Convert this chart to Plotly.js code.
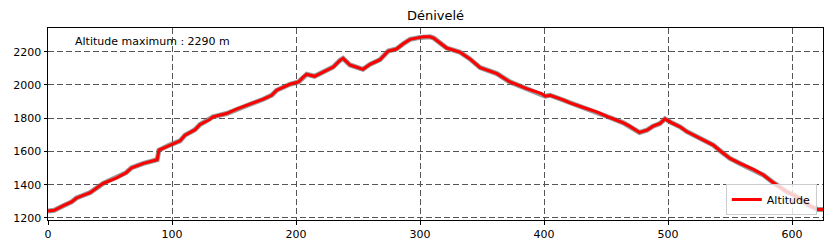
<!DOCTYPE html>
<html>
<head>
<meta charset="utf-8">
<script src="https://cdn.plot.ly/plotly-3.0.1.min.js"></script>
<style>html,body{margin:0;padding:0;background:#fff;}#chart{width:836px;height:250px;}</style>
</head>
<body>
<div id="chart"></div>
<script>
const distance = [0, 5, 12, 19, 23, 34, 44.5, 55, 63, 67.5, 77, 88, 89.5, 98, 106.5, 110.5, 118.5, 122.6, 130, 133, 144, 152, 163, 173.6, 180.4, 184.4, 195, 202, 206, 208.6, 215, 223, 230, 235.5, 238, 243.5, 254, 259.7, 267.7, 274.4, 281, 286.5, 292, 300, 303, 308, 311, 321.5, 332, 340, 348.5, 362, 372.5, 386, 398, 401, 405, 415.5, 421, 431.7, 442.5, 453, 464, 469, 477, 483, 488, 493.5, 497.6, 503, 509.7, 515, 525.8, 536.5, 543, 550, 558, 568.8, 577, 585, 595.7, 603.8, 614.5, 621, 626];
const altitude = [1242, 1246, 1272, 1296, 1320, 1352, 1408, 1440, 1472, 1502, 1528, 1550, 1608, 1638, 1664, 1698, 1730, 1762, 1790, 1808, 1828, 1854, 1884, 1914, 1938, 1968, 2004, 2018, 2048, 2064, 2052, 2084, 2108, 2148, 2160, 2120, 2094, 2124, 2152, 2204, 2216, 2248, 2274, 2286, 2290, 2290, 2282, 2222, 2198, 2158, 2104, 2068, 2018, 1978, 1948, 1932, 1938, 1910, 1892, 1864, 1838, 1804, 1772, 1752, 1714, 1728, 1752, 1768, 1796, 1772, 1748, 1720, 1678, 1638, 1598, 1558, 1528, 1492, 1458, 1412, 1358, 1328, 1272, 1250, 1250];
const xTicks = [0, 100, 200, 300, 400, 500, 600];
const yTicks = [1200, 1400, 1600, 1800, 2000, 2200];
const chartTitle = "Dénivelé";
const seriesName = "Altitude";
const maxLabel = "Altitude maximum : " + Math.max(...altitude) + " m";

const font = "DejaVu Sans, sans-serif";
const traces = [
  {x: distance, y: altitude, type: "scatter", mode: "lines", line: {color: "rgba(110,110,110,0.7)", width: 5}, showlegend: false, hoverinfo: "skip"},
  {x: distance, y: altitude, type: "scatter", mode: "lines", name: seriesName, line: {color: "#ff0000", width: 3}}
];
const axisCommon = {
  showline: true, mirror: true, linecolor: "#000", linewidth: 1,
  ticks: "outside", ticklen: 3.5, tickcolor: "#000", tickwidth: 1,
  showgrid: true, gridcolor: "#555", gridwidth: 1, griddash: "6px,3px",
  zeroline: false, tickfont: {family: font, size: 11, color: "#000"}
};
const layout = {
  width: 836, height: 250,
  margin: {l: 48, r: 13, t: 28, b: 30},
  paper_bgcolor: "#fff", plot_bgcolor: "#fff",
  title: {text: chartTitle, font: {family: font, size: 13, color: "#000"}, x: (48 + 823) / 2 / 836, xanchor: "center", y: 1 - 15 / 250, yanchor: "middle"},
  xaxis: Object.assign({}, axisCommon, {range: [0, 625], tickvals: xTicks}),
  yaxis: Object.assign({}, axisCommon, {range: [1187.5, 2342.5], tickvals: yTicks}),
  showlegend: true,
  legend: {x: 0.992, xanchor: "right", y: 0.026, yanchor: "bottom", bgcolor: "rgba(255,255,255,0.8)", bordercolor: "#ccc", borderwidth: 1, font: {family: font, size: 11, color: "#000"}, itemwidth: 30, tracegroupgap: 0},
  annotations: [{text: maxLabel, xref: "paper", yref: "paper", x: 0.032, y: 0.932, xanchor: "left", yanchor: "middle", showarrow: false, font: {family: font, size: 11, color: "#000"}}]
};
Plotly.newPlot("chart", traces, layout, {staticPlot: true, displayModeBar: false});
</script>
</body>
</html>
